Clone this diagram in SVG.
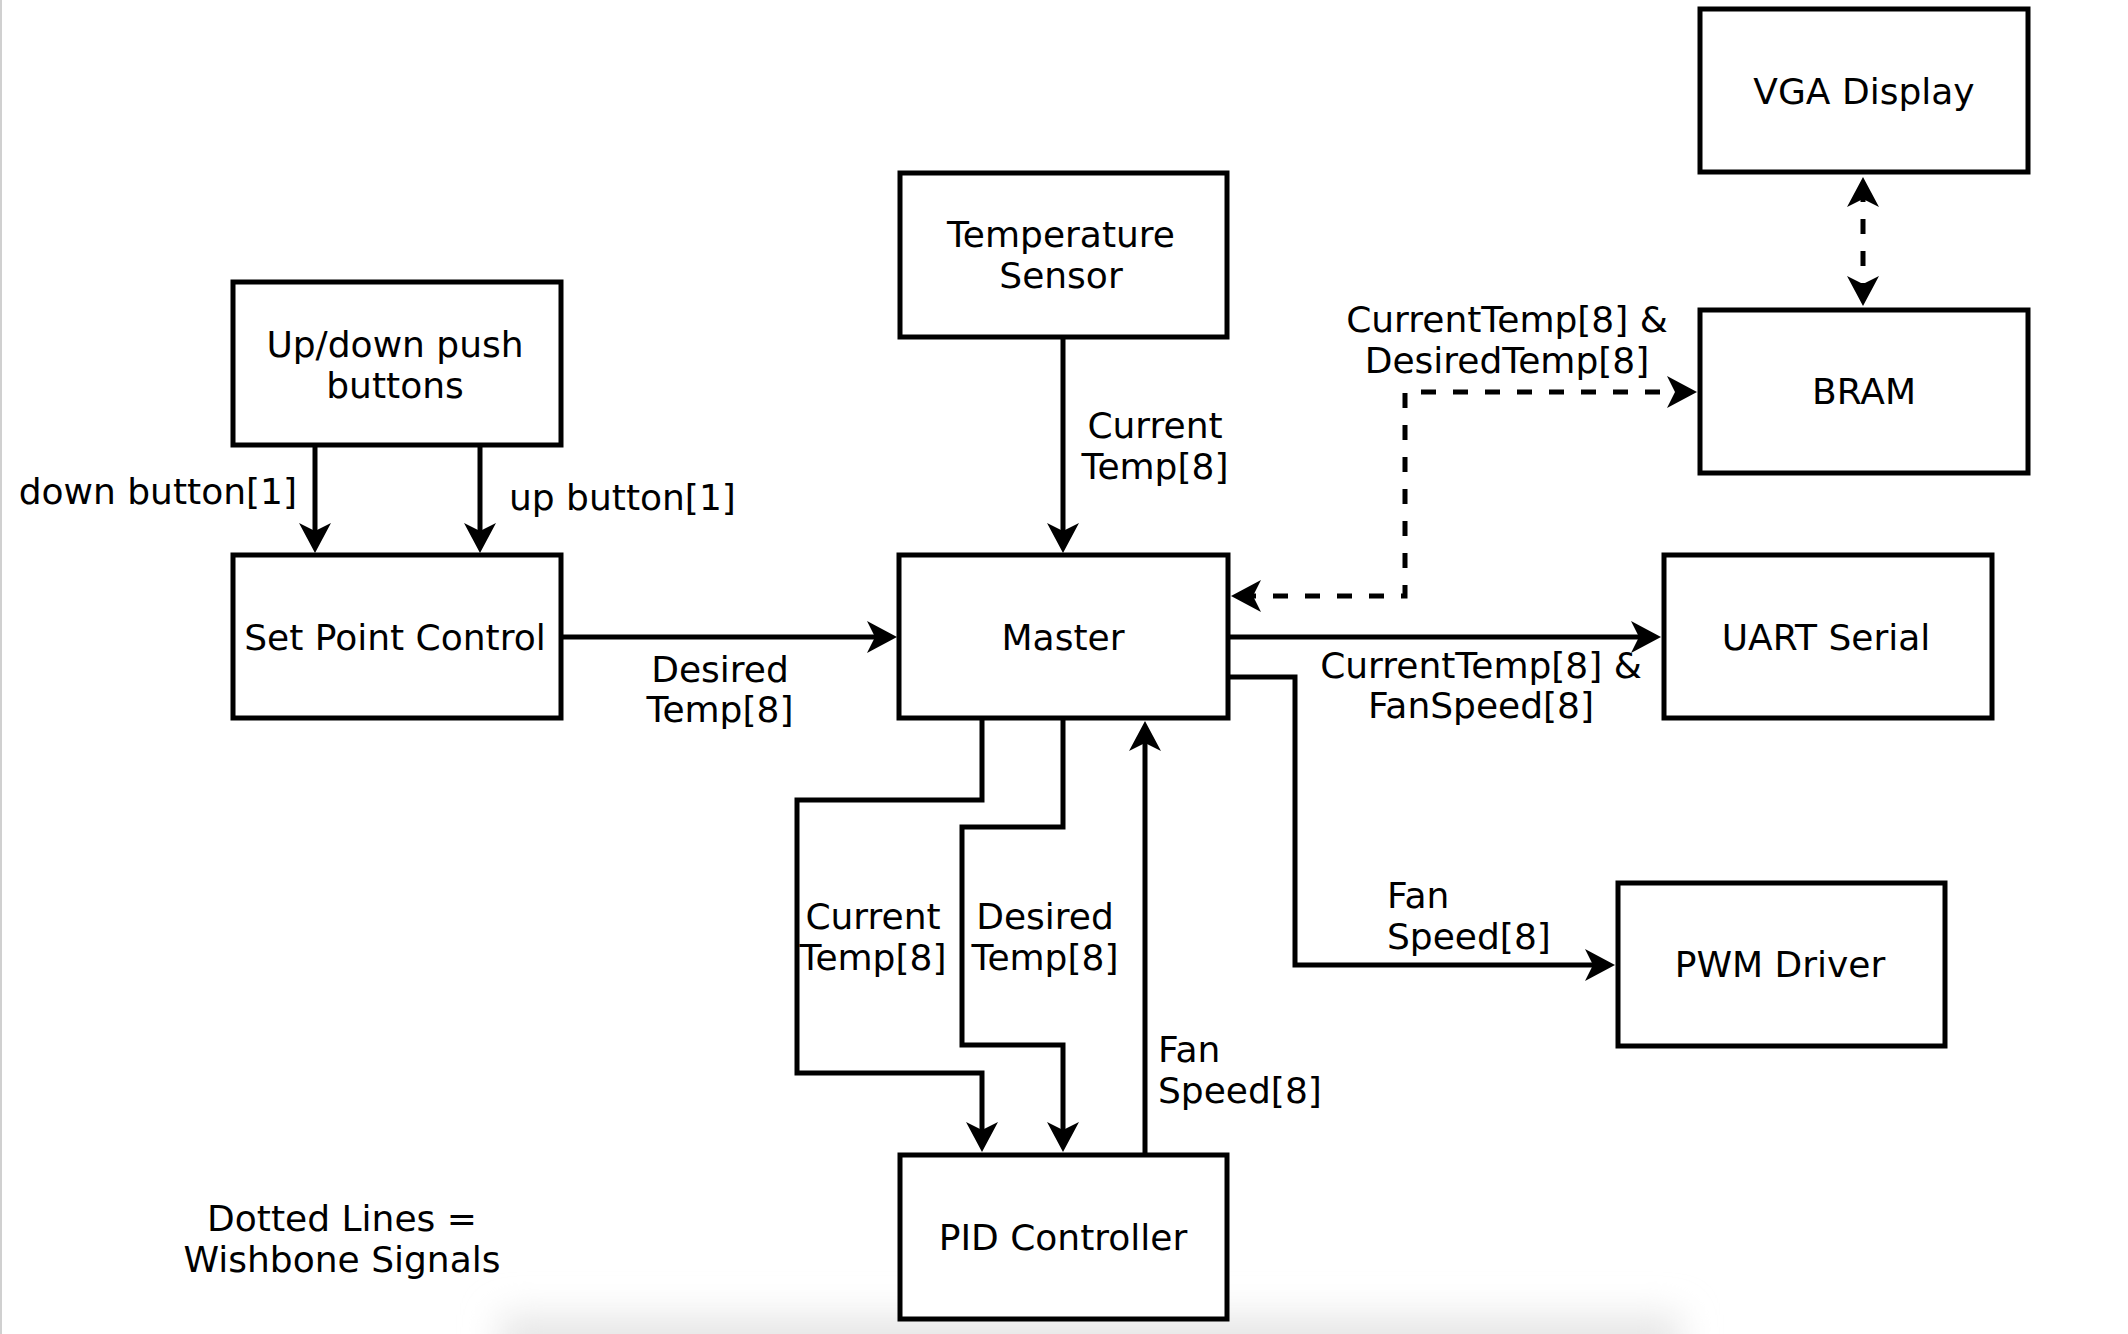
<svg xmlns="http://www.w3.org/2000/svg" width="2128" height="1334" viewBox="0 0 2128 1334">
<style>
.box{fill:#fff;stroke:#000;stroke-width:5}
.t{font-family:"DejaVu Sans","Verdana",sans-serif;font-size:36px;fill:#000}
.c{text-anchor:middle}
.e{fill:none;stroke:#000;stroke-width:5}
.d{stroke-dasharray:15 17}
</style>
<defs>
<marker id="arr" markerUnits="userSpaceOnUse" markerWidth="36" markerHeight="36" viewBox="-22 -18 36 36" refX="0" refY="0" orient="auto-start-reverse">
<path d="M10,0 L-20,-16 L-12,0 L-20,16 Z" fill="#000" stroke="none"/>
</marker>
<filter id="blur" x="-20%" y="-100%" width="140%" height="300%"><feGaussianBlur stdDeviation="18"/></filter>
</defs>
<rect x="0" y="0" width="2128" height="1334" fill="#fff"/>
<line x1="1" y1="0" x2="1" y2="1334" stroke="#d0d0d0" stroke-width="2"/>
<rect x="500" y="1315" width="1180" height="60" fill="#e6e6e6" filter="url(#blur)"/>

<g id="connectors">
<path class="e" d="M315,447 V543" marker-end="url(#arr)"/>
<path class="e" d="M480,447 V543" marker-end="url(#arr)"/>
<path class="e" d="M561,637 H887" marker-end="url(#arr)"/>
<path class="e" d="M1063,337 V543" marker-end="url(#arr)"/>
<path class="e" d="M1228,637 H1651" marker-end="url(#arr)"/>
<path class="e" d="M1228,677 H1295 V965 H1605" marker-end="url(#arr)"/>
<path class="e" d="M982,718 V800 H797 V1073 H982 V1142" marker-end="url(#arr)"/>
<path class="e" d="M1063,718 V827 H962 V1045 H1063 V1142" marker-end="url(#arr)"/>
<path class="e" d="M1145,1155 V731" marker-end="url(#arr)"/>
<path class="e d" d="M1863,187 V296" marker-start="url(#arr)" marker-end="url(#arr)"/>
<path class="e d" d="M1241,596 H1405 V392 H1687" marker-start="url(#arr)" marker-end="url(#arr)"/>
<text class="t" x="297" y="504" text-anchor="end">down button[1]</text>
<text class="t" x="509" y="510">up button[1]</text>
<text class="t c" x="720" y="682">Desired</text>
<text class="t c" x="720" y="722">Temp[8]</text>
<text class="t c" x="1155" y="438">Current</text>
<text class="t c" x="1155" y="479">Temp[8]</text>
<text class="t c" x="1507" y="332">CurrentTemp[8] &amp;</text>
<text class="t c" x="1507" y="373">DesiredTemp[8]</text>
<text class="t c" x="1481" y="678">CurrentTemp[8] &amp;</text>
<text class="t c" x="1481" y="718">FanSpeed[8]</text>
<text class="t c" x="873" y="929">Current</text>
<text class="t c" x="873" y="970">Temp[8]</text>
<text class="t c" x="1045" y="929">Desired</text>
<text class="t c" x="1045" y="970">Temp[8]</text>
<text class="t" x="1158" y="1062">Fan</text>
<text class="t" x="1158" y="1103">Speed[8]</text>
<text class="t" x="1387" y="908">Fan</text>
<text class="t" x="1387" y="949">Speed[8]</text>
</g>

<g id="vga"><rect class="box" x="1700" y="9" width="328" height="163"/><text class="t c" x="1864" y="104">VGA Display</text></g>
<g id="bram"><rect class="box" x="1700" y="310" width="328" height="163"/><text class="t c" x="1864" y="404">BRAM</text></g>
<g id="temp"><rect class="box" x="900" y="173" width="327" height="164"/><text class="t c" x="1061" y="247">Temperature</text><text class="t c" x="1061" y="288">Sensor</text></g>
<g id="buttons"><rect class="box" x="233" y="282" width="328" height="163"/><text class="t c" x="395" y="357">Up/down push</text><text class="t c" x="395" y="398">buttons</text></g>
<g id="setpoint"><rect class="box" x="233" y="555" width="328" height="163"/><text class="t c" x="395" y="650">Set Point Control</text></g>
<g id="master"><rect class="box" x="899" y="555" width="329" height="163"/><text class="t c" x="1063" y="650">Master</text></g>
<g id="uart"><rect class="box" x="1664" y="555" width="328" height="163"/><text class="t c" x="1826" y="650">UART Serial</text></g>
<g id="pwm"><rect class="box" x="1618" y="883" width="327" height="163"/><text class="t c" x="1780" y="977">PWM Driver</text></g>
<g id="pid"><rect class="box" x="900" y="1155" width="327" height="164"/><text class="t c" x="1063" y="1250">PID Controller</text></g>
<g id="legend"><text class="t c" x="342" y="1231">Dotted Lines =</text><text class="t c" x="342" y="1272">Wishbone Signals</text></g>
</svg>
